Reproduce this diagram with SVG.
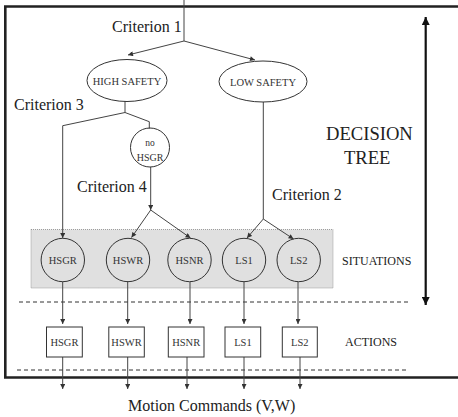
<svg xmlns="http://www.w3.org/2000/svg" width="458" height="417" viewBox="0 0 458 417">
<defs>
<marker id="ah" viewBox="0 0 10 10" refX="10" refY="5" markerWidth="6" markerHeight="5" markerUnits="userSpaceOnUse" orient="auto">
<path d="M0,0 L10,5 L0,10 z" fill="#333"/>
</marker>
<marker id="big" viewBox="0 0 10 10" refX="10" refY="5" markerWidth="11" markerHeight="8" markerUnits="userSpaceOnUse" orient="auto">
<path d="M0,0 L10,5 L0,10 z" fill="#111"/>
</marker>
</defs>
<style>
.t{font-family:"Liberation Serif","Times New Roman",serif;fill:#222}
.lbl{font-size:16px}
.n{font-size:10.5px;fill:#333;text-anchor:middle}
.side{font-size:12px}
.shape{fill:none;stroke:#333;stroke-width:1}
.box{fill:#fff;stroke:#333;stroke-width:1}
.c{fill:none;stroke:#444;stroke-width:1}
.ca{fill:none;stroke:#444;stroke-width:1;marker-end:url(#ah)}
.dash{stroke:#333;stroke-width:1;stroke-dasharray:4,3}
</style>
<rect width="458" height="417" fill="#fff"/>
<!-- outer frame -->
<path d="M470,6.5 H5.3 V377.5 H470" fill="none" stroke="#222" stroke-width="2.6"/>
<!-- gray situations box -->
<rect x="31" y="229.5" width="302" height="58.5" fill="#e0e0e0" stroke="#888" stroke-width="0.8" stroke-dasharray="1,1"/>
<!-- dashed separators -->
<line class="dash" x1="19" y1="302" x2="409" y2="302"/>
<line class="dash" x1="17" y1="370" x2="406" y2="370"/>
<!-- big vertical double arrow -->
<line x1="425.7" y1="160" x2="425.7" y2="17" stroke="#111" stroke-width="2.2" marker-end="url(#big)"/>
<line x1="425.7" y1="160" x2="425.7" y2="305" stroke="#111" stroke-width="2.2" marker-end="url(#big)"/>

<g id="connectors">
<path class="c" d="M184,0 V41"/>
<path class="ca" d="M184,41 L128,55"/>
<path class="ca" d="M184,41 L255,60"/>
<path class="c" d="M125,101 V112.5 L62.7,125.7"/>
<path class="ca" d="M62.7,125.7 V238"/>
<path class="c" d="M125,112.5 L149.3,121.7 V128.5"/>
<path class="ca" d="M150.7,167 V210"/>
<path class="ca" d="M150.7,210 L131.5,237.5"/>
<path class="ca" d="M150.7,210 L190.5,238"/>
<path class="c" d="M263.3,102 V219"/>
<path class="ca" d="M263.3,219 L247,238"/>
<path class="ca" d="M263.3,219 L293.5,239"/>
<path class="ca" d="M62.7,282 V324"/>
<path class="ca" d="M127.7,281.5 V324"/>
<path class="ca" d="M190,282 V324"/>
<path class="ca" d="M244,282 V324"/>
<path class="ca" d="M298,282 V324"/>
<path class="ca" d="M62.7,357 V389"/>
<path class="ca" d="M127.7,357 V389"/>
<path class="ca" d="M187,357 V389"/>
<path class="ca" d="M244,357 V389"/>
<path class="ca" d="M300,357 V389"/>
</g>

<g id="high-safety">
<ellipse class="shape" cx="127" cy="80.5" rx="40" ry="21"/>
<text class="t n" x="127" y="84.5">HIGH SAFETY</text>
</g>
<g id="low-safety">
<ellipse class="shape" cx="263" cy="81.5" rx="44" ry="20.5"/>
<text class="t n" x="263" y="85.5">LOW SAFETY</text>
</g>
<g id="no-hsgr">
<circle class="shape" cx="150" cy="147.5" r="19.5"/>
<text class="t n" x="150" y="146" style="font-size:9.5px">no</text>
<text class="t n" x="150" y="160.5" style="font-size:10px">HSGR</text>
</g>

<g id="sit-hsgr"><circle class="shape" cx="62.8" cy="260" r="21.7"/><text class="t n" x="62.8" y="264">HSGR</text></g>
<g id="sit-hswr"><circle class="shape" cx="128" cy="260" r="21.7"/><text class="t n" x="128" y="264">HSWR</text></g>
<g id="sit-hsnr"><circle class="shape" cx="189.5" cy="260" r="21.7"/><text class="t n" x="189.5" y="264">HSNR</text></g>
<g id="sit-ls1"><circle class="shape" cx="244" cy="260" r="21.7"/><text class="t n" x="244" y="264">LS1</text></g>
<g id="sit-ls2"><circle class="shape" cx="298.7" cy="260" r="21.7"/><text class="t n" x="298.7" y="264">LS2</text></g>

<g id="act-hsgr"><rect class="box" x="46.5" y="327" width="35.8" height="30"/><text class="t n" x="64.4" y="346">HSGR</text></g>
<g id="act-hswr"><rect class="box" x="108.8" y="327" width="35.5" height="30"/><text class="t n" x="126.5" y="346">HSWR</text></g>
<g id="act-hsnr"><rect class="box" x="168.3" y="327" width="35.7" height="30"/><text class="t n" x="186.2" y="346">HSNR</text></g>
<g id="act-ls1"><rect class="box" x="225" y="327" width="35.7" height="30"/><text class="t n" x="242.9" y="346">LS1</text></g>
<g id="act-ls2"><rect class="box" x="282.3" y="327" width="35" height="30"/><text class="t n" x="299.8" y="346">LS2</text></g>

<g id="labels">
<text class="t lbl" x="112" y="32">Criterion 1</text>
<text class="t lbl" x="14" y="110">Criterion 3</text>
<text class="t lbl" x="77" y="192">Criterion 4</text>
<text class="t lbl" x="272" y="200">Criterion 2</text>
<text class="t" x="326" y="140" style="font-size:18.6px">DECISION</text>
<text class="t" x="344" y="164" style="font-size:18.6px">TREE</text>
<text class="t side" x="342" y="265">SITUATIONS</text>
<text class="t side" x="345" y="346">ACTIONS</text>
<text class="t lbl" x="128" y="411">Motion Commands (V,W)</text>
</g>
</svg>
